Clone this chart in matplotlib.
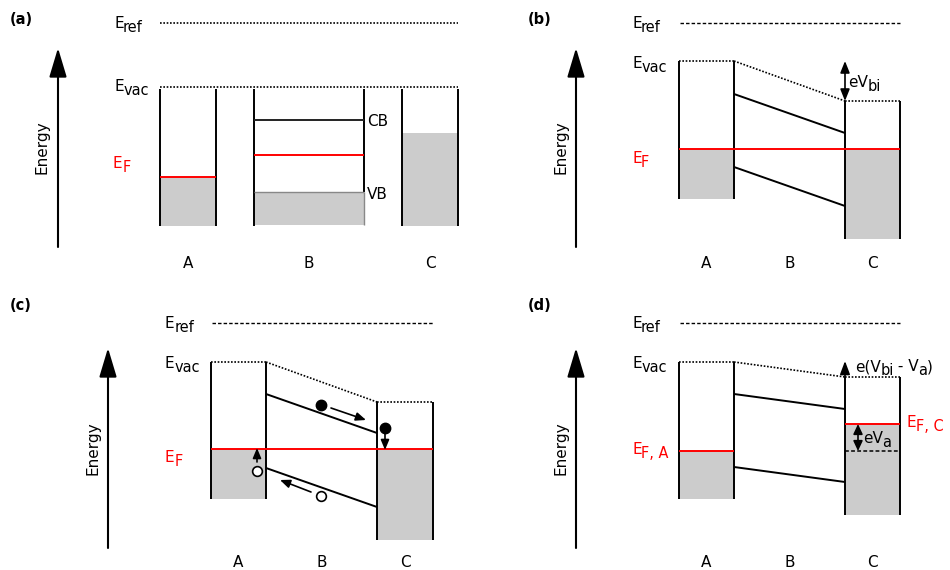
import matplotlib
matplotlib.use('Agg')
import matplotlib.pyplot as plt
from matplotlib.transforms import offset_copy

# figure space is used as the drawing space (x right, y down, 950 x 570)
GREY = '#cccccc'

# panel (a): separated materials, flat bands
a_eref = 23
a_evac = 87
a_bottom = 226
a_walls = [(160, 216), (254, 364), (402, 458)]
a_ef_A = 177
a_top_C = 133
a_cb_B = 120
a_ef_B = 155
a_vb_B = 192

# panel (b): equilibrium, x = walls of A | B | C
b_x = [679, 734, 845, 900]
b_eref = 23
b_evac = [61, 101]
b_cb = [94, 133]
b_vb = [167, 206]
b_ef = 149
b_bottom = [199, 239]

# panel (c): carriers
c_x = [211, 266, 377, 433]
c_eref = 323
c_evac = [362, 402]
c_cb = [394, 433]
c_vb = [468, 507]
c_ef = 449
c_bottom = [499, 540]
c_electrons = [(321, 405), (385, 428)]
c_holes = [(257, 471), (321, 496)]

# panel (d): applied bias
d_x = [679, 734, 845, 900]
d_eref = 323
d_evac = [362, 377]
d_cb = [394, 409]
d_vb = [467, 482]
d_ef = [451, 424]
d_bottom = [499, 515]

layer_names = ['A', 'B', 'C']

fig = plt.figure(figsize=(9.5, 5.7), dpi=100)
ax = fig.add_axes([0, 0, 1, 1])
ax.set_xlim(0, 950)
ax.set_ylim(570, 0)
ax.axis('off')
renderer = fig.canvas.get_renderer()

LW = 1.4
dotted = (0, (1, 1))
dashed = (0, (2.5, 1.5))


def label(x, y, parts, color='black', size=11):
    # text with large, lowered subscripts: parts = [(text, is_sub), ...]
    dx = 0
    for s, sub in parts:
        tr = offset_copy(ax.transData, fig=fig, x=dx, y=-4 if sub else 0, units='dots')
        t = ax.text(x, y, s, fontsize=size * 0.95 if sub else size, color=color,
                    transform=tr, va='baseline', ha='left')
        dx += t.get_window_extent(renderer).width - 0.5


def arrow(x0, y0, x1, y1, style='-|>', hl=0.6, hw=0.25, ms=10, lw=1.2):
    ax.annotate('', xy=(x1, y1), xytext=(x0, y0),
                arrowprops=dict(arrowstyle=f'{style},head_length={hl},head_width={hw}',
                                mutation_scale=ms, lw=lw, color='black',
                                shrinkA=0, shrinkB=0))


def vline(x, y0, y1, color='black', ls='-', lw=LW):
    ax.plot([x, x], [y0, y1], color=color, ls=ls, lw=lw, solid_capstyle='butt')


def hline(x0, x1, y0, y1=None, color='black', ls='-', lw=LW):
    ax.plot([x0, x1], [y0, y0 if y1 is None else y1], color=color, ls=ls, lw=lw,
            solid_capstyle='butt')


def frame(tag, tx, ty, arrow_x, arrow_y, energy_x):
    ax.text(tx, ty, tag, fontsize=10.5, fontweight='bold', va='center', ha='left')
    arrow(arrow_x, arrow_y[1], arrow_x, arrow_y[0], hl=0.9, hw=0.27, ms=20, lw=1.5)
    ax.text(energy_x, (arrow_y[0] + arrow_y[1]) / 2, 'Energy', rotation=90,
            fontsize=11, ha='center', va='center')


# ---------- (a) ----------
frame('(a)', 10, 20, 58, (48, 247), 42)
label(114, 28, [('E', False), ('ref', True)])
label(114, 91, [('E', False), ('vac', True)])
label(113, 168, [('E', False), ('F', True)], color='red')
hline(160, 458, a_eref, ls=dotted, lw=1.2)
hline(160, 458, a_evac, ls=dotted, lw=1.2)
(xa0, xa1), (xb0, xb1), (xc0, xc1) = a_walls
ax.fill_between([xa0, xa1], a_ef_A, a_bottom, color=GREY, lw=0)
ax.fill_between([xb0, xb1], a_vb_B, a_bottom - 1, color=GREY, lw=0)
ax.fill_between([xc0, xc1], a_top_C, a_bottom, color=GREY, lw=0)
for x0, x1 in a_walls:
    vline(x0, a_evac + 2, a_bottom)
    vline(x1, a_evac + 2, a_bottom if x1 != xb1 else a_vb_B)
vline(xb1, a_vb_B, a_bottom - 1, color='#888888', lw=1)
hline(xb0, xb1, a_vb_B, color='#888888', lw=1)
hline(xa0, xa1, a_ef_A, color='red')
hline(xb0, xb1, a_cb_B, color='#222222')
hline(xb0, xb1, a_ef_B, color='red')
ax.text(367, 126, 'CB', fontsize=11, va='baseline')
ax.text(367, 199, 'VB', fontsize=11, va='baseline')
for name, (x0, x1) in zip(layer_names, a_walls):
    ax.text((x0 + x1) / 2, 268, name, fontsize=11, ha='center', va='baseline')


# ---------- (b), (c), (d): joined A | B | C ----------
def junction(x, eref, evac, cb, vb, bottom, ef_A, ef_C, name_y):
    xa0, xa1, xc0, xc1 = x
    ax.fill_between([xa0, xa1], ef_A, bottom[0], color=GREY, lw=0)
    ax.fill_between([xc0, xc1], ef_C, bottom[1], color=GREY, lw=0)
    hline(xa0 + 1, xc1, eref, ls=dashed, lw=1)
    hline(xa0, xa1, evac[0], ls=dotted, lw=1.2)
    hline(xa1, xc0, evac[0], evac[1], ls=dotted, lw=1.2)
    hline(xc0, xc1, evac[1], ls=dotted, lw=1.2)
    vline(xa0, evac[0], bottom[0])
    vline(xa1, evac[0], bottom[0])
    vline(xc0, evac[1], bottom[1])
    vline(xc1, evac[1], bottom[1])
    hline(xa1, xc0, cb[0], cb[1])
    hline(xa1, xc0, vb[0], vb[1])
    centers = [(xa0 + xa1) / 2, (xa1 + xc0) / 2, (xc0 + xc1) / 2]
    for name, cx in zip(layer_names, centers):
        ax.text(cx, name_y, name, fontsize=11, ha='center', va='baseline')


# (b)
frame('(b)', 528, 20, 576, (48, 247), 561)
label(632, 28, [('E', False), ('ref', True)])
label(632, 68, [('E', False), ('vac', True)])
label(632, 163, [('E', False), ('F', True)], color='red')
junction(b_x, b_eref, b_evac, b_cb, b_vb, b_bottom, b_ef, b_ef, 268)
hline(b_x[0], b_x[3], b_ef, color='red')
arrow(b_x[2], b_evac[1], b_x[2], b_evac[0], style='<|-|>', hl=0.7, hw=0.28)
label(848, 87, [('eV', False), ('bi', True)])

# (c)
frame('(c)', 10, 306, 108, (348, 548), 93)
label(165, 328, [('E', False), ('ref', True)])
label(165, 368, [('E', False), ('vac', True)])
label(165, 462, [('E', False), ('F', True)], color='red')
junction(c_x, c_eref, c_evac, c_cb, c_vb, c_bottom, c_ef, c_ef, 567)
hline(c_x[0], c_x[3], c_ef, color='red')
ex, ey = zip(*c_electrons)
ax.plot(ex, ey, 'o', ms=7.5, color='black')
hx, hy = zip(*c_holes)
ax.plot(hx, hy, 'o', ms=7, mfc='white', mec='black', mew=1.2)
arrow(331, 408, 366, 420)
arrow(385, 433, 385, 450)
arrow(257, 462, 257, 448)
arrow(311, 492, 280, 480)

# (d)
frame('(d)', 528, 306, 576, (348, 548), 561)
label(632, 328, [('E', False), ('ref', True)])
label(632, 368, [('E', False), ('vac', True)])
label(632, 454, [('E', False), ('F, A', True)], color='red')
label(907, 427, [('E', False), ('F, C', True)], color='red')
junction(d_x, d_eref, d_evac, d_cb, d_vb, d_bottom, d_ef[0], d_ef[1], 567)
hline(d_x[0], d_x[1], d_ef[0], color='red')
hline(d_x[2], d_x[3], d_ef[1], color='red')
hline(d_x[2], d_x[3], d_ef[0], ls=dashed, lw=1.1)
arrow(d_x[2], d_evac[1], d_x[2], d_evac[0] - 1, hl=0.8, hw=0.3)
label(855, 371, [('e(V', False), ('bi', True), (' - V', False), ('a', True), (')', False)])
arrow(858, d_ef[1], 858, d_ef[0], style='<|-|>', hl=0.6, hw=0.28)
label(863, 443, [('eV', False), ('a', True)])

fig.savefig('out.png', dpi=100)
